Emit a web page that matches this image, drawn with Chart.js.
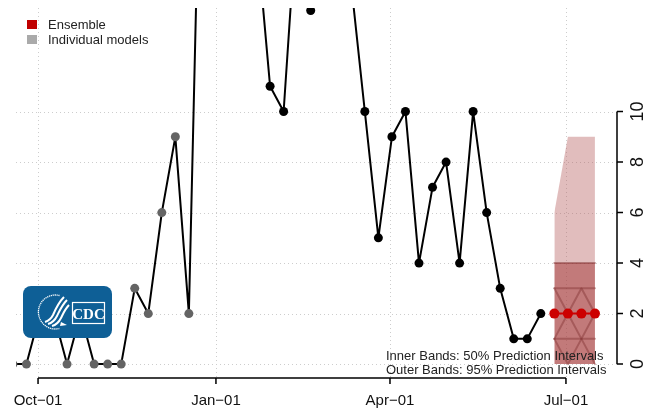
<!DOCTYPE html>
<html>
<head>
<meta charset="utf-8">
<script src="https://cdn.jsdelivr.net/npm/chart.js@4.4.0/dist/chart.umd.min.js"></script>
<style>
  html, body { margin: 0; padding: 0; background: #fff; }
  #wrap { position: relative; width: 655px; height: 412px; font-family: "Liberation Sans", Arial, sans-serif; color: #222; }
  #chart { position: absolute; left: 0; top: 0; }
  .key { position: absolute; font-size: 13px; line-height: 15px; white-space: nowrap; }
  .key i { position: absolute; left: -21px; top: 3px; width: 10px; height: 9px; }
  .note { position: absolute; left: 386px; top: 349px; font-size: 13px; line-height: 14px; white-space: nowrap; }
  #logo { position: absolute; left: 23px; top: 286px; }
</style>
</head>
<body>
<div id="wrap">
  <canvas id="chart" width="655" height="412"></canvas>

  <div class="key" style="left:48px;top:17px"><i style="background:#c00000"></i>Ensemble</div>
  <div class="key" style="left:48px;top:32px"><i style="background:#aaaaaa"></i>Individual models</div>

  <div class="note">Inner Bands: 50% Prediction Intervals<br>Outer Bands: 95% Prediction Intervals</div>

  <svg id="logo" width="89" height="52" viewBox="0 0 89 52">
    <rect x="0" y="0" width="89" height="52" rx="8" fill="#0e5f96"/>
    <path d="M36.5 9.5 A17 17 0 1 0 36.5 42.5" fill="none" stroke="#fff" stroke-width="1.3" stroke-dasharray="1.2 0.7"/>
    <path d="M41 11 C36 16 33 22 30 29 C28 33 25 35 22 36" fill="none" stroke="#fff" stroke-width="2"/>
    <path d="M44 14 C39 19 37 24 34 30 C32 34 29 37 25 38" fill="none" stroke="#fff" stroke-width="2"/>
    <path d="M46 19 C42 23 40 28 38 32 C36 36 33 39 29 40" fill="none" stroke="#fff" stroke-width="2"/>
    <path d="M38 36 L44 39 L37 40 Z" fill="#fff"/>
    <rect x="49.5" y="16.5" width="32" height="21" fill="none" stroke="#fff" stroke-width="1.2"/>
    <text x="65.5" y="32.5" text-anchor="middle" font-family="Liberation Serif, serif" font-weight="bold" font-size="15" fill="#fff">CDC</text>
  </svg>
</div>

<script>
// axis setup
const axisStart = '2021-10-01';
const xTickDates = ['2021-10-01', '2022-01-01', '2022-04-01', '2022-07-01'];
const xTickLabels = ['Oct\u221201', 'Jan\u221201', 'Apr\u221201', 'Jul\u221201'];
const yTicks = [0, 2, 4, 6, 8, 10];

// observed weekly counts (several weeks run past the top of the plot)
const obsDates = [
  '2021-09-18', '2021-09-25', '2021-10-02', '2021-10-09', '2021-10-16', '2021-10-23',
  '2021-10-30', '2021-11-06', '2021-11-13', '2021-11-20', '2021-11-27', '2021-12-04',
  '2021-12-11', '2021-12-18', '2021-12-25', '2022-01-01', '2022-01-08', '2022-01-15',
  '2022-01-22', '2022-01-29', '2022-02-05', '2022-02-12', '2022-02-19', '2022-02-26',
  '2022-03-05', '2022-03-12', '2022-03-19', '2022-03-26', '2022-04-02', '2022-04-09',
  '2022-04-16', '2022-04-23', '2022-04-30', '2022-05-07', '2022-05-14', '2022-05-21',
  '2022-05-28', '2022-06-04', '2022-06-11', '2022-06-18'
];
const obsValues = [
  0, 0, 2, 2, 0, 2,
  0, 0, 0, 3, 2, 6,
  9, 2, 25, 30, 28, 22,
  17, 11, 10, 18, 14, 20,
  18, 15, 10, 5, 9, 10,
  4, 7, 8, 4, 10, 6,
  3, 1, 1, 2
];
// last week shown with gray (older) markers
const grayThrough = '2022-01-22';

// forecast
const fcDates = ['2022-06-25', '2022-07-02', '2022-07-09', '2022-07-16'];
const fcMedian = [2, 2, 2, 2];
const fcUpper95 = [6, 9, 9, 9];
const fcLower95 = [0, 0, 0, 0];
const fcUpper50 = [4, 4, 4, 4];
const modelLines = [
  [3, 3, 3, 3],
  [1, 1, 1, 1],
  [3, 2, 3, 2],
  [1, 2, 1, 2],
  [1, 0, 1, 0]
];

const DAY = 86400000;
const t0 = Date.parse(axisStart);
const toDay = s => (Date.parse(s) - t0) / DAY;
const pts = (dates, vals) => dates.map((d, i) => ({ x: toDay(d), y: vals[i] }));

const grayDay = toDay(grayThrough);
const obsPts = pts(obsDates, obsValues);

const datasets = [
  {
    data: pts(fcDates, fcMedian),
    borderColor: '#cc0000', backgroundColor: '#cc0000',
    borderWidth: 2, pointRadius: 5, pointBorderWidth: 0, order: 0
  },
  {
    data: obsPts,
    borderColor: '#000', borderWidth: 2,
    pointRadius: 4.5, pointBorderWidth: 0,
    pointBackgroundColor: obsPts.map(p => p.x <= grayDay ? '#646464' : '#000'),
    order: 1
  },
  ...modelLines.map(vals => ({
    data: pts(fcDates, vals),
    borderColor: 'rgba(130,50,50,0.45)', borderWidth: 2, pointRadius: 0, order: 2
  })),
  {
    data: pts(fcDates, fcUpper50),
    borderColor: 'rgba(130,50,50,0.5)', borderWidth: 2, pointRadius: 0,
    backgroundColor: 'rgba(160,50,50,0.48)', fill: { value: 0 }, order: 3
  },
  {
    data: pts(fcDates, fcUpper95),
    borderWidth: 0, pointRadius: 0,
    backgroundColor: 'rgba(180,90,90,0.4)', fill: { value: fcLower95[0] }, order: 4
  }
];

const rAxes = {
  id: 'rAxes',
  beforeDatasetsDraw(chart) {
    const { ctx, chartArea: a, scales: { x, y } } = chart;
    ctx.save();
    ctx.strokeStyle = '#cdcdcd';
    ctx.lineWidth = 1;
    ctx.setLineDash([1, 3]);
    yTicks.forEach(v => {
      const py = Math.round(y.getPixelForValue(v)) + 0.5;
      ctx.beginPath(); ctx.moveTo(a.left, py); ctx.lineTo(a.right, py); ctx.stroke();
    });
    xTickDates.forEach(d => {
      const px = Math.round(x.getPixelForValue(toDay(d))) + 0.5;
      ctx.beginPath(); ctx.moveTo(px, a.top); ctx.lineTo(px, a.bottom); ctx.stroke();
    });
    ctx.restore();
  },
  afterDatasetsDraw(chart) {
    const { ctx, chartArea: a, scales: { x, y } } = chart;
    ctx.save();
    ctx.strokeStyle = '#000';
    ctx.fillStyle = '#111';
    ctx.lineWidth = 1.5;

    // bottom axis
    const xs = xTickDates.map(d => x.getPixelForValue(toDay(d)));
    ctx.beginPath();
    ctx.moveTo(xs[0], a.bottom); ctx.lineTo(xs[xs.length - 1], a.bottom);
    xs.forEach(px => { ctx.moveTo(px, a.bottom); ctx.lineTo(px, a.bottom + 6); });
    ctx.stroke();
    ctx.font = '15px "Liberation Sans", Arial, sans-serif';
    ctx.textAlign = 'center';
    ctx.textBaseline = 'middle';
    xs.forEach((px, i) => ctx.fillText(xTickLabels[i], px, a.bottom + 23));

    // right axis
    const ys = yTicks.map(v => y.getPixelForValue(v));
    ctx.beginPath();
    ctx.moveTo(a.right, ys[0]); ctx.lineTo(a.right, ys[ys.length - 1]);
    ys.forEach(py => { ctx.moveTo(a.right, py); ctx.lineTo(a.right + 6, py); });
    ctx.stroke();
    ctx.font = '18px "Liberation Sans", Arial, sans-serif';
    ys.forEach((py, i) => {
      ctx.save();
      ctx.translate(a.right + 21, py);
      ctx.rotate(-Math.PI / 2);
      ctx.fillText(String(yTicks[i]), 0, 0);
      ctx.restore();
    });
    ctx.restore();
  }
};

new Chart(document.getElementById('chart'), {
  type: 'line',
  data: { datasets },
  options: {
    responsive: false,
    animation: false,
    devicePixelRatio: 1,
    layout: { padding: { left: 16, right: 38, top: 8, bottom: 34 } },
    elements: { line: { tension: 0, borderJoinStyle: 'round', borderCapStyle: 'round' } },
    datasets: { line: { clip: 0, spanGaps: false } },
    plugins: { legend: { display: false }, tooltip: { enabled: false } },
    scales: {
      x: { type: 'linear', min: -11.4, max: 299.4, display: false },
      y: { type: 'linear', min: -0.55, max: 14.1, display: false }
    }
  },
  plugins: [rAxes]
});
</script>
</body>
</html>
